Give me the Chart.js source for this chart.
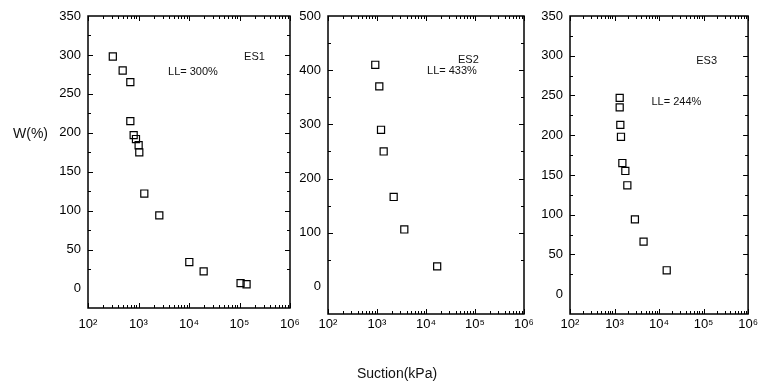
<!DOCTYPE html>
<html>
<head>
<meta charset="utf-8">
<script src="https://cdn.jsdelivr.net/npm/chart.js@4.4.1/dist/chart.umd.min.js"></script>
<style>
  body { margin:0; background:#fff; width:761px; height:388px; position:relative; overflow:hidden; font-family:"Liberation Sans", Arial, sans-serif; }
  canvas { position:absolute; left:0; top:0; }
  .axis-title { position:absolute; font-size:14px; color:#111; white-space:nowrap; }
</style>
</head>
<body>
<canvas id="chartES1" width="761" height="388"></canvas>
<canvas id="chartES2" width="761" height="388"></canvas>
<canvas id="chartES3" width="761" height="388"></canvas>
<div class="axis-title" style="left:13px;top:125px">W(%)</div>
<div class="axis-title" style="left:357px;top:365px">Suction(kPa)</div>
<script>
// Suction (kPa) vs water content W(%) - 3 samples
const xTicks = [1e2, 1e3, 1e4, 1e5, 1e6];

const es1Suction = [310, 486, 689, 689, 802, 891, 1006, 1037, 1303, 2582, 10140, 19500, 105000, 138000];
const es1W       = [298, 280, 265, 215, 197, 192, 184, 175, 122, 94, 34, 22, 7, 5.5];
const es1Ticks   = [0, 50, 100, 150, 200, 250, 300, 350];

const es2Suction = [922, 1114, 1208, 1368, 2188, 3607, 16900];
const es2W       = [410, 370, 290, 250, 166, 106, 38];
const es2Ticks   = [0, 100, 200, 300, 400, 500];

const es3Suction = [1306, 1306, 1350, 1396, 1500, 1750, 1940, 2870, 4490, 14860];
const es3W       = [247, 235, 213, 198, 165, 155, 137, 94, 66, 30];
const es3Ticks   = [0, 50, 100, 150, 200, 250, 300, 350];

const sup = {2:'²',3:'³',4:'⁴',5:'⁵',6:'⁶'};
Chart.defaults.font.family = '"Liberation Sans", Arial, sans-serif';
Chart.defaults.color = '#000';

// frame + inward ticks + text labels
const framePlugin = {
  id: 'frame',
  afterDraw(chart, args, opts) {
    const {ctx, chartArea:a, scales:{x, y}} = chart;
    ctx.save();
    ctx.strokeStyle = '#000'; ctx.lineWidth = 1.5;
    ctx.strokeRect(a.left, a.top, a.right-a.left, a.bottom-a.top);
    ctx.lineWidth = 1;
    ctx.beginPath();
    for (let e=2; e<=6; e++) {
      for (let m=1; m<=9; m++) {
        const v = m*Math.pow(10,e);
        if (v > x.max) break;
        const px = Math.round(x.getPixelForValue(v))+0.5, len = m===1?5:3;
        ctx.moveTo(px, a.bottom); ctx.lineTo(px, a.bottom-len);
        ctx.moveTo(px, a.top); ctx.lineTo(px, a.top+len);
      }
    }
    for (let v=opts.minor; v<y.max; v+=opts.minor) {
      if (v <= y.min) continue;
      const py = Math.round(y.getPixelForValue(v))+0.5, len = (v%opts.major===0)?5:3;
      ctx.moveTo(a.left, py); ctx.lineTo(a.left+len, py);
      ctx.moveTo(a.right, py); ctx.lineTo(a.right-len, py);
    }
    ctx.stroke();
    ctx.fillStyle = '#111'; ctx.font = '11px "Liberation Sans", Arial, sans-serif';
    ctx.textAlign = 'left'; ctx.textBaseline = 'middle';
    opts.notes.forEach(n => ctx.fillText(n.text, x.getPixelForValue(n.x), y.getPixelForValue(n.y)));
    ctx.restore();
  }
};

function makePanel(id, xs, ys, yTicks, yMin, yMax, minor, box, xPad, notes) {
  new Chart(document.getElementById(id), {
    type: 'scatter',
    data: { datasets: [{ data: xs.map((v,i)=>({x:v, y:ys[i]})), pointStyle:'rect', pointRadius:5,
      borderColor:'#000', borderWidth:1.2, backgroundColor:'rgba(0,0,0,0)' }] },
    options: {
      responsive:false, animation:false,
      layout: { padding: { left: box.l-50, right: 761-box.r, top: box.t, bottom: 388-box.b-40 } },
      plugins: { legend:{display:false}, tooltip:{enabled:false},
        frame: { minor:minor, major:yTicks[1]-yTicks[0], notes:notes } },
      scales: {
        x: { type:'logarithmic', min:1e2, max:1e6,
          grid:{display:false, drawTicks:false}, border:{display:false},
          afterBuildTicks: s => { s.ticks = xTicks.map(v=>({value:v})); },
          afterFit: s => { s.height = 40; },
          ticks: { autoSkip:false, maxRotation:0, padding:xPad, font:{size:13},
            callback: v => '10' + sup[Math.round(Math.log10(v))] } },
        y: { type:'linear', min:yMin, max:yMax,
          grid:{display:false, drawTicks:false}, border:{display:false},
          afterBuildTicks: s => { s.ticks = yTicks.map(v=>({value:v})); },
          afterFit: s => { s.width = 50; },
          ticks: { padding:7, font:{size:13} } }
      }
    },
    plugins: [framePlugin]
  });
}

makePanel('chartES1', es1Suction, es1W, es1Ticks, -25, 350, 25, {l:88, r:290, t:16, b:308}, 9,
  [{text:'ES1', x:1.23e5, y:297}, {text:'LL= 300%', x:3840, y:278}]);
makePanel('chartES2', es2Suction, es2W, es2Ticks, -50, 500, 50, {l:328, r:524, t:16, b:314}, 3,
  [{text:'ES2', x:45000, y:419}, {text:'LL= 433%', x:10500, y:398}]);
makePanel('chartES3', es3Suction, es3W, es3Ticks, -25, 350, 25, {l:570, r:749, t:16, b:314}, 3,
  [{text:'ES3', x:68400, y:293}, {text:'LL= 244%', x:6760, y:242}]);
</script>
</body>
</html>
